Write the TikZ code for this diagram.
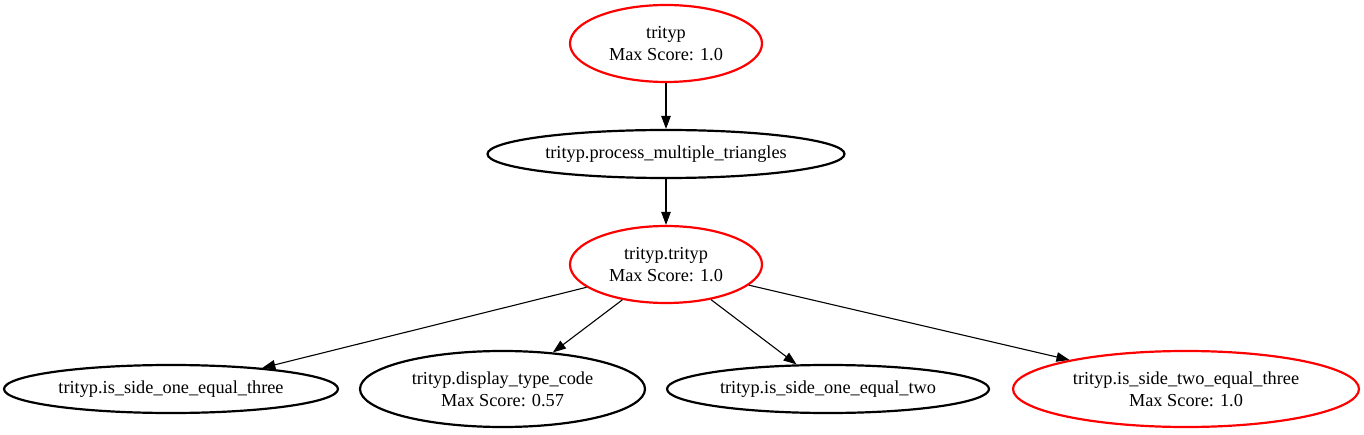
\documentclass[tikz,border=0pt]{standalone}
\usepackage{fontspec}
\setmainfont{Liberation Serif}
\usetikzlibrary{shapes.geometric,arrows.meta}
\begin{document}
\begin{tikzpicture}[x=1pt,y=-1pt,
  fn/.style={ellipse,draw=black,line width=2.2pt,inner sep=0pt,align=center,
    font=\fontsize{18.3}{22.4}\selectfont},
  redfn/.style={fn,draw=red},
  edge/.style={draw=black,line width=1.1pt,-{Triangle[length=13pt,width=9.5pt]}}]
\useasboundingbox (0,0) rectangle (1364,435);
\node[redfn,minimum width=192pt,minimum height=77pt] (top) at (666,43.5) {trityp\\Max Score: 1.0};
\node[fn,minimum width=357pt,minimum height=48pt] (proc) at (666,154) {trityp.process\_multiple\_triangles};
\node[redfn,minimum width=192pt,minimum height=77pt] (tt) at (666,264.5) {trityp.trityp\\Max Score: 1.0};
\node[fn,minimum width=334pt,minimum height=48pt] (a) at (171,389) {trityp.is\_side\_one\_equal\_three};
\node[fn,minimum width=285pt,minimum height=76pt] (b) at (502.5,389) {trityp.display\_type\_code\\Max Score: 0.57};
\node[fn,minimum width=322pt,minimum height=48pt] (c) at (828,389) {trityp.is\_side\_one\_equal\_two};
\node[redfn,minimum width=346pt,minimum height=76pt] (d) at (1186,389) {trityp.is\_side\_two\_equal\_three\\Max Score: 1.0};
\draw[edge] (top) -- (proc);
\draw[edge] (proc) -- (tt);
\draw[edge] (tt.-164.7) -- (a.13.4);
\draw[edge] (tt.-141.4) -- (b.36.8);
\draw[edge] (tt.-38.3) -- (c.142.3);
\draw[edge] (tt.-14) -- (d.166.8);
\end{tikzpicture}
\end{document}
